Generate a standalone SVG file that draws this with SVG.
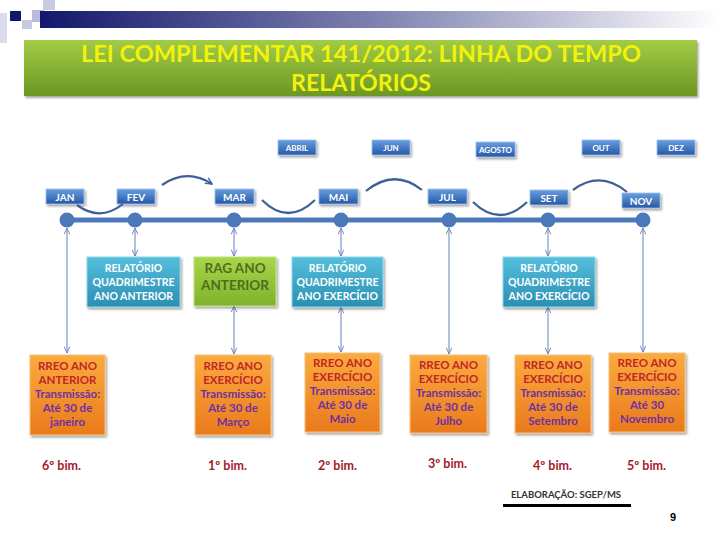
<svg xmlns="http://www.w3.org/2000/svg" width="720" height="540" viewBox="0 0 720 540">
<defs>
<linearGradient id="hdr" x1="0" y1="0" x2="1" y2="0"><stop offset="0" stop-color="#12186c"/><stop offset="0.5" stop-color="#8083b0"/><stop offset="1" stop-color="#ffffff"/></linearGradient>
<linearGradient id="ban" x1="0" y1="0" x2="0" y2="1"><stop offset="0" stop-color="#a2cc45"/><stop offset="1" stop-color="#6c9724"/></linearGradient>
<linearGradient id="blu" x1="0" y1="0" x2="0" y2="1"><stop offset="0" stop-color="#6a9ee0"/><stop offset="1" stop-color="#2558a6"/></linearGradient>
<linearGradient id="teal" x1="0" y1="0" x2="0" y2="1"><stop offset="0" stop-color="#55bfdc"/><stop offset="1" stop-color="#2b8fb2"/></linearGradient>
<linearGradient id="grn" x1="0" y1="0" x2="0" y2="1"><stop offset="0" stop-color="#a9d64a"/><stop offset="1" stop-color="#7eb22c"/></linearGradient>
<linearGradient id="org" x1="0" y1="0" x2="0" y2="1"><stop offset="0" stop-color="#fbab3e"/><stop offset="1" stop-color="#ea7a1c"/></linearGradient>
<filter id="sh" x="-20%" y="-20%" width="150%" height="160%"><feDropShadow dx="1.5" dy="2" stdDeviation="1.2" flood-color="#000" flood-opacity="0.35"/></filter>
<marker id="ah" viewBox="0 0 10 10" refX="10" refY="5" markerWidth="7" markerHeight="7" orient="auto-start-reverse" markerUnits="userSpaceOnUse"><path d="M1,1 L10,5 L1,9" fill="none" stroke="#6b80b8" stroke-width="1.3"/></marker>
<marker id="arc" viewBox="0 0 10 10" refX="9" refY="5" markerWidth="8" markerHeight="8" orient="auto" markerUnits="userSpaceOnUse"><path d="M1,1 L9,5 L1,9" fill="none" stroke="#3f5f96" stroke-width="1.6"/></marker>
</defs>
<style>
.t{font-family:Lato,"Liberation Sans",sans-serif;font-weight:bold;text-anchor:middle}
.mb{fill:url(#blu);stroke:#9cc0ee;stroke-width:0.8;filter:url(#sh)}
.mt{fill:#fff;font-size:10px}
.ms{fill:#fff;font-size:8px}
.tb{fill:url(#teal);stroke:#8fd6ea;stroke-width:1;filter:url(#sh)}
.tt{fill:#fff;font-size:10.5px}
.ob{fill:url(#org);stroke:#f7c07e;stroke-width:1;filter:url(#sh)}
.r1{fill:#c0262a;font-size:11.5px}
.r2{fill:#7030a0;font-size:11.5px}
.bim{fill:#a3202c;font-size:12.5px;font-weight:bold;font-family:Lato,"Liberation Sans",sans-serif}
.con line{stroke:#6b80b8;stroke-width:1;marker-start:url(#ah);marker-end:url(#ah)}
.arcs path{fill:none;stroke:#3f5f96;stroke-width:2.2}
</style>
<rect width="720" height="540" fill="#fff"/>
<g id="header">
<rect x="0" y="13" width="7" height="30" fill="#dcdcef"/>
<rect x="22" y="20" width="10" height="9" fill="#c8c9e3"/>
<rect x="43" y="0" width="12" height="10" fill="#c8c9e3"/>
<rect x="32" y="10" width="12" height="12" fill="#b9bbdc"/>
<rect x="40" y="11" width="680" height="17" fill="url(#hdr)"/>
<rect x="10" y="11" width="11" height="10" fill="#12186c"/>
</g>
<g id="title">
<rect x="24" y="40" width="673" height="56" fill="url(#ban)" filter="url(#sh)"/>
<text class="t" x="361" y="62" fill="#f2f20c" font-size="23" textLength="560" lengthAdjust="spacingAndGlyphs">LEI COMPLEMENTAR 141/2012: LINHA DO TEMPO</text>
<text class="t" x="361" y="91" fill="#f2f20c" font-size="23" textLength="140" lengthAdjust="spacingAndGlyphs">RELATÓRIOS</text>
</g>
<g id="months-top">
<g id="m-abril"><rect class="mb" x="278" y="140" width="38" height="15"/><text class="t ms" x="297" y="150.5">ABRIL</text></g>
<g id="m-jun"><rect class="mb" x="372" y="140" width="38" height="15"/><text class="t ms" x="391" y="150.5">JUN</text></g>
<g id="m-agosto"><rect class="mb" x="476" y="142" width="39" height="15"/><text class="t ms" x="495.5" y="152.5">AGOSTO</text></g>
<g id="m-out"><rect class="mb" x="582" y="140" width="38" height="15"/><text class="t ms" x="601" y="150.5">OUT</text></g>
<g id="m-dez"><rect class="mb" x="657" y="140" width="38" height="15"/><text class="t ms" x="676" y="150.5">DEZ</text></g>
</g>
<g id="months-main">
<g id="m-jan"><rect class="mb" x="46" y="189" width="38" height="15"/><text class="t mt" x="65" y="200.5">JAN</text></g>
<g id="m-fev"><rect class="mb" x="117" y="189" width="38" height="15"/><text class="t mt" x="136" y="200.5">FEV</text></g>
<g id="m-mar"><rect class="mb" x="215" y="189" width="39" height="15"/><text class="t mt" x="234.5" y="200.5">MAR</text></g>
<g id="m-mai"><rect class="mb" x="319" y="189" width="39" height="15"/><text class="t mt" x="338.5" y="200.5">MAI</text></g>
<g id="m-jul"><rect class="mb" x="428" y="189" width="39" height="15"/><text class="t mt" x="447.5" y="200.5">JUL</text></g>
<g id="m-set"><rect class="mb" x="530" y="190" width="38" height="15"/><text class="t mt" x="549" y="201.5">SET</text></g>
<g id="m-nov"><rect class="mb" x="622" y="193" width="38" height="15"/><text class="t mt" x="641" y="204.5">NOV</text></g>
</g>
<g id="timeline" fill="#4a78b8">
<rect x="66" y="217.5" width="577" height="5"/>
<circle cx="67" cy="220" r="7.5"/>
<circle cx="135" cy="220" r="7.5"/>
<circle cx="234" cy="220" r="7.5"/>
<circle cx="341" cy="220" r="7.5"/>
<circle cx="449" cy="220" r="7.5"/>
<circle cx="548" cy="220" r="7.5"/>
<circle cx="643" cy="220" r="7.5"/>
</g>
<g id="connectors">
<g class="arcs">
<path d="M77,205 Q100,222 123,204"/>
<path d="M162,185 Q187,168 212,184" marker-end="url(#arc)"/>
<path d="M262,200 Q288,226 315,200"/>
<path d="M366,191 Q394,168 422,190"/>
<path d="M473,202 Q500,228 527,202"/>
<path d="M573,190 Q600,170 627,192"/>
</g>
<g class="con">
<line x1="67" y1="228" x2="67" y2="353"/>
<line x1="135" y1="228" x2="135" y2="256"/>
<line x1="234" y1="228" x2="234" y2="256"/>
<line x1="234" y1="306" x2="234" y2="354"/>
<line x1="341" y1="228" x2="341" y2="256"/>
<line x1="341" y1="307" x2="341" y2="352"/>
<line x1="449" y1="228" x2="449" y2="354"/>
<line x1="548" y1="228" x2="548" y2="256"/>
<line x1="548" y1="307" x2="548" y2="354"/>
<line x1="643" y1="228" x2="643" y2="352"/>
</g>
</g>
<g id="rel-1"><rect class="tb" x="87" y="257" width="93" height="50"/><text class="t tt" x="133.5" y="272">RELATÓRIO</text><text class="t tt" x="133.5" y="286">QUADRIMESTRE</text><text class="t tt" x="133.5" y="300">ANO ANTERIOR</text></g>
<g id="rag"><rect x="194" y="257" width="82" height="49" fill="url(#grn)" stroke="#c3e37a" stroke-width="1" filter="url(#sh)"/><text class="t" x="235" y="273" fill="#4f6e1c" font-size="13.5">RAG ANO</text><text class="t" x="235" y="290" fill="#4f6e1c" font-size="13.5">ANTERIOR</text></g>
<g id="rel-2"><rect class="tb" x="292" y="257" width="91" height="50"/><text class="t tt" x="337.5" y="272">RELATÓRIO</text><text class="t tt" x="337.5" y="286">QUADRIMESTRE</text><text class="t tt" x="337.5" y="300">ANO EXERCÍCIO</text></g>
<g id="rel-3"><rect class="tb" x="503" y="257" width="92" height="50"/><text class="t tt" x="549" y="272">RELATÓRIO</text><text class="t tt" x="549" y="286">QUADRIMESTRE</text><text class="t tt" x="549" y="300">ANO EXERCÍCIO</text></g>
<g id="rreo-1"><rect class="ob" x="30" y="355" width="75" height="80"/><text class="t r1" x="67.5" y="370">RREO ANO</text><text class="t r1" x="67.5" y="384">ANTERIOR</text><text class="t r2" x="67.5" y="398">Transmissão:</text><text class="t r2" x="67.5" y="412">Até 30 de</text><text class="t r2" x="67.5" y="426">janeiro</text></g>
<g id="rreo-2"><rect class="ob" x="195" y="355" width="76" height="80"/><text class="t r1" x="233" y="370">RREO ANO</text><text class="t r1" x="233" y="384">EXERCÍCIO</text><text class="t r2" x="233" y="398">Transmissão:</text><text class="t r2" x="233" y="412">Até 30 de</text><text class="t r2" x="233" y="426">Março</text></g>
<g id="rreo-3"><rect class="ob" x="305" y="353" width="75" height="79"/><text class="t r1" x="342.5" y="367">RREO ANO</text><text class="t r1" x="342.5" y="381">EXERCÍCIO</text><text class="t r2" x="342.5" y="395">Transmissão:</text><text class="t r2" x="342.5" y="409">Até 30 de</text><text class="t r2" x="342.5" y="423">Maio</text></g>
<g id="rreo-4"><rect class="ob" x="410" y="355" width="77" height="78"/><text class="t r1" x="448.5" y="369">RREO ANO</text><text class="t r1" x="448.5" y="383">EXERCÍCIO</text><text class="t r2" x="448.5" y="397">Transmissão:</text><text class="t r2" x="448.5" y="411">Até 30 de</text><text class="t r2" x="448.5" y="425">Julho</text></g>
<g id="rreo-5"><rect class="ob" x="515" y="355" width="76" height="78"/><text class="t r1" x="553" y="369">RREO ANO</text><text class="t r1" x="553" y="383">EXERCÍCIO</text><text class="t r2" x="553" y="397">Transmissão:</text><text class="t r2" x="553" y="411">Até 30 de</text><text class="t r2" x="553" y="425">Setembro</text></g>
<g id="rreo-6"><rect class="ob" x="609" y="353" width="76" height="79"/><text class="t r1" x="647" y="367">RREO ANO</text><text class="t r1" x="647" y="381">EXERCÍCIO</text><text class="t r2" x="647" y="395">Transmissão:</text><text class="t r2" x="647" y="409">Até 30</text><text class="t r2" x="647" y="423">Novembro</text></g>
<g id="bims">
<text class="bim" x="42" y="470">6º bim.</text>
<text class="bim" x="208" y="470">1º bim.</text>
<text class="bim" x="318" y="470">2º bim.</text>
<text class="bim" x="428" y="468">3º bim.</text>
<text class="bim" x="533" y="470">4º bim.</text>
<text class="bim" x="627" y="470">5º bim.</text>
</g>
<g id="footer">
<text x="566" y="498" font-family="Lato,'Liberation Sans',sans-serif" font-size="9.5" font-weight="bold" fill="#333" text-anchor="middle">ELABORAÇÃO: SGEP/MS</text>
<rect x="503" y="504" width="128" height="3" fill="#000"/>
<text x="673" y="521" font-family="'Liberation Sans',sans-serif" font-size="11" font-weight="bold" fill="#000" text-anchor="middle">9</text>
</g>
</svg>
